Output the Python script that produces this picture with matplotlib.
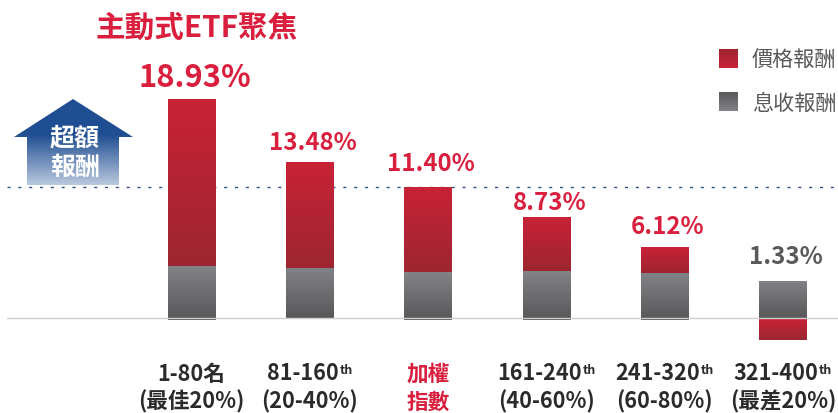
import matplotlib
matplotlib.use('Agg')
import matplotlib.pyplot as plt
import numpy as np
from matplotlib.colors import LinearSegmentedColormap
from matplotlib.patches import Polygon

plt.rcParams['font.family'] = ['Noto Sans CJK TC', 'DejaVu Sans']

line1 = ['1-80名', '81-160', '加權', '161-240', '241-320', '321-400']
line2 = ['(最佳20%)', '(20-40%)', '指數', '(40-60%)', '(60-80%)', '(最差20%)']
has_th = [False, True, False, True, True, True]
income = [4.53, 4.35, 4.00, 4.10, 3.92, 3.25]
price = [14.40, 9.13, 7.33, 4.63, 2.20, -1.87]
totals = ['18.93%', '13.48%', '11.40%', '8.73%', '6.12%', '1.33%']
income_base = [-0.13, 0, -0.13, -0.13, -0.13, 0]

RED = '#d91f3d'
GREY = '#58595b'
DARK = '#2b2b2b'

red_cmap = LinearSegmentedColormap.from_list('r', ['#c92237', '#9d2630'])
grey_cmap = LinearSegmentedColormap.from_list('g', ['#828386', '#58585a'])
blue_cmap = LinearSegmentedColormap.from_list(
    'b', [(0, '#1f4e92'), (0.42, '#1f4e92'), (1, '#b9c8de')])
grad = np.linspace(0, 1, 256).reshape(-1, 1)

fig = plt.figure(figsize=(8.38, 4.14), dpi=100)
ax = fig.add_axes([0, 0, 1, 1])
ax.axis('off')
px_x = 118.3
px_y = 11.6
xlim = (-191.7 / px_x, (838 - 191.7) / px_x)
ylim = (-94.8 / px_y, 319.2 / px_y)


def gradient_bar(x, bottom, height, cmap):
    bar = ax.bar(x, height, 48 / px_x, bottom=bottom, color='none', zorder=3)[0]
    im = ax.imshow(grad, extent=(x - 0.3, x + 0.3, min(bottom, bottom + height),
                                 max(bottom, bottom + height)),
                   cmap=cmap, aspect='auto', zorder=3)
    im.set_clip_path(bar)


for i in range(len(income)):
    gradient_bar(i, income_base[i], income[i] - income_base[i], grey_cmap)
    if price[i] > 0:
        gradient_bar(i, income[i], price[i], red_cmap)
    else:
        gradient_bar(i, price[i], -price[i], red_cmap)

ax.set_xlim(*xlim)
ax.set_ylim(*ylim)

# base line and index level
ax.plot([xlim[0] + 7 / px_x, xlim[1]], [0, 0], color='#cfcfd0', lw=1.0, zorder=4)
ax.plot([xlim[0] + 7 / px_x, xlim[1]], [income[2] + price[2]] * 2, color='#2f4f8a',
        lw=1.0, dashes=(2.2, 5.6), zorder=1)

# value labels, gap above each bar in pixels
label_gap = [22, 20, 24, 15, 21, 24]
for i, t in enumerate(totals):
    top = income[i] + max(price[i], 0)
    size = 22.2 if i == 0 else 17.3
    col = GREY if i == 5 else RED
    ax.annotate(t, (i, top), xytext=(2.2, label_gap[i] * 0.72), textcoords='offset points',
                ha='center', va='center', fontsize=size, fontweight='bold', color=col)

# category labels
over = fig.add_axes([0, 0, 1, 1])
over.axis('off')
over.patch.set_alpha(0)
over.set_xlim(0, 838)
over.set_ylim(414, 0)
for i in range(len(line1)):
    xc = 191.5 + px_x * i
    col = RED if i == 2 else DARK
    shift = 7 if has_th[i] else 0
    t = over.text(xc - shift, 374, line1[i], ha='center', va='center', fontsize=15.6,
                  fontweight='bold', color=col)
    if has_th[i]:
        over.annotate('th', xy=(1, 1), xycoords=t, xytext=(0.5, -1),
                      textcoords='offset points', ha='left', va='top', fontsize=9,
                      fontweight='bold', color=col)
    over.text(xc, 402, line2[i], ha='center', va='center', fontsize=15.6,
              fontweight='bold', color=col)

over.text(95, 28, '主動式ETF聚焦', ha='left', va='center', fontsize=21.3,
          fontweight='bold', color=RED)

# legend
over.imshow(grad[::-1], extent=(719, 738, 69, 50), cmap=red_cmap, aspect='auto')
over.imshow(grad[::-1], extent=(719, 738, 112, 93), cmap=grey_cmap, aspect='auto')
over.text(752, 61, '價格報酬', ha='left', va='center', fontsize=15.2, color=GREY)
over.text(752, 104, '息收報酬', ha='left', va='center', fontsize=15.2, color=GREY)

# arrow
house = Polygon([(73, 100), (133, 138), (119, 138), (119, 186), (27, 186), (27, 138),
                 (14, 138)], closed=True, fc='none', ec='none')
over.add_patch(house)
im = over.imshow(grad, extent=(14, 133, 186, 100), cmap=blue_cmap, aspect='auto')
im.set_clip_path(house)
over.text(75, 138, '超額', ha='center', va='center', fontsize=18, fontweight='bold',
          color='white')
over.text(75, 168, '報酬', ha='center', va='center', fontsize=18, fontweight='bold',
          color='white')
over.set_xlim(0, 838)
over.set_ylim(414, 0)

fig.savefig('out.png', dpi=100)
